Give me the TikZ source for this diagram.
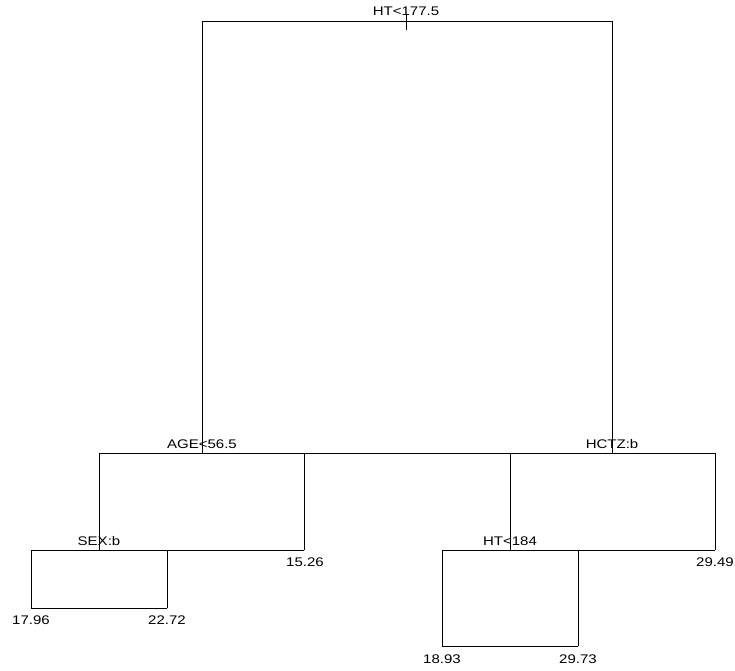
\documentclass[tikz,border=0pt]{standalone}
\usepackage{fontspec}
\setmainfont{Liberation Sans}
\begin{document}
\begin{tikzpicture}[x=1pt,y=-1pt,
  seg/.style={line width=0.9pt,black,line cap=rect},
  lbl/.style={inner sep=0pt,font=\fontsize{12.5}{14}\selectfont}]
\useasboundingbox (0,0) rectangle (735,670);
% tree node coordinates
\coordinate (r) at (406,21);
\coordinate (rt) at (406,15);
\coordinate (rb) at (406,30);
\coordinate (rL) at (202,21);
\coordinate (rR) at (612,21);
\coordinate (a) at (202,453);
\coordinate (h) at (612,453);
\coordinate (aL) at (99,453);
\coordinate (aR) at (304,453);
\coordinate (hL) at (510,453);
\coordinate (hR) at (715,453);
\coordinate (s) at (99,550);
\coordinate (l15) at (304,550);
\coordinate (t) at (510,550);
\coordinate (l29) at (715,550);
\coordinate (sL) at (31,550);
\coordinate (sR) at (167,550);
\coordinate (l17) at (31,608);
\coordinate (l22) at (167,608);
\coordinate (tL) at (442,550);
\coordinate (tR) at (578,550);
\coordinate (l18) at (442,646);
\coordinate (l2973) at (578,646);
% segments
\draw[seg] (rt) -- (rb);
\draw[seg] (rL) -- (rR);
\draw[seg] (rL) -- (a);
\draw[seg] (rR) -- (h);
\draw[seg] (aL) -- (hR);
\draw[seg] (s) -- (aL);
\draw[seg] (l15) -- (aR);
\draw[seg] (t) -- (hL);
\draw[seg] (l29) -- (hR);
\draw[seg] (sL) -- (l15);
\draw[seg] (tL) -- (l29);
\draw[seg] (sL) -- (l17);
\draw[seg] (sR) -- (l22);
\draw[seg] (l17) -- (l22);
\draw[seg] (tL) -- (l18);
\draw[seg] (tR) -- (l2973);
\draw[seg] (l18) -- (l2973);
% labels
\node[lbl] (nr) at (406,11) {\scalebox{1.2}[1]{HT<177.5}};
\node[lbl] (na) at (202,444) {\scalebox{1.2}[1]{AGE<56.5}};
\node[lbl] (nh) at (612,444) {\scalebox{1.2}[1]{HCTZ:b}};
\node[lbl] (ns) at (99,541) {\scalebox{1.2}[1]{SEX:b}};
\node[lbl] (nt) at (510,541) {\scalebox{1.2}[1]{HT<184}};
\node[lbl] (n15) at (305,562) {\scalebox{1.2}[1]{15.26}};
\node[lbl] (n29) at (715,562) {\scalebox{1.2}[1]{29.49}};
\node[lbl] (n17) at (31,620) {\scalebox{1.2}[1]{17.96}};
\node[lbl] (n22) at (167,620) {\scalebox{1.2}[1]{22.72}};
\node[lbl] (n18) at (442,659) {\scalebox{1.2}[1]{18.93}};
\node[lbl] (n2973) at (578,659) {\scalebox{1.2}[1]{29.73}};
\end{tikzpicture}
\end{document}
